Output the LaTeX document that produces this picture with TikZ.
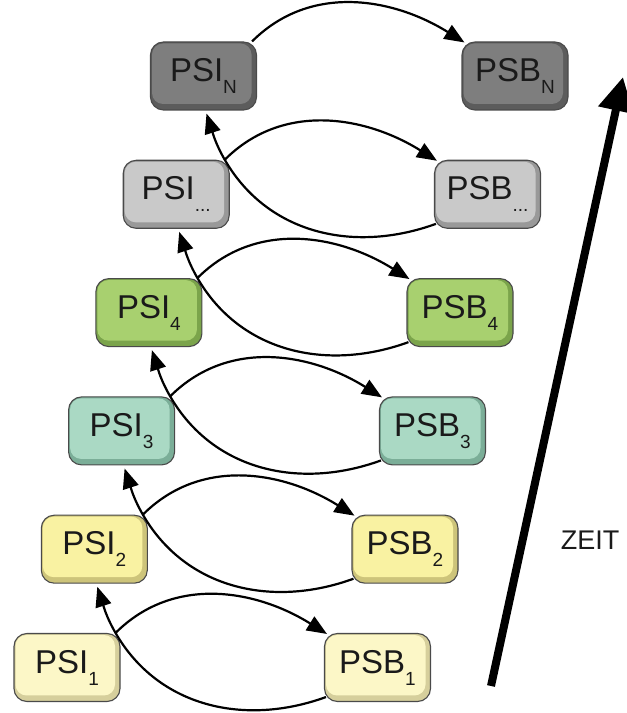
\documentclass[tikz,border=0pt]{standalone}
\usepackage{fontspec}
\setmainfont{Liberation Sans}
\usetikzlibrary{arrows.meta,calc}

% face / side colours of the key caps, one pair per row
\definecolor{faceA}{HTML}{FCF7C7}\definecolor{sideA}{HTML}{D6CF9C}
\definecolor{faceB}{HTML}{F9F2A2}\definecolor{sideB}{HTML}{CDC47A}
\definecolor{faceC}{HTML}{AAD9C4}\definecolor{sideC}{HTML}{7BAE98}
\definecolor{faceD}{HTML}{A8D06F}\definecolor{sideD}{HTML}{7BA44B}
\definecolor{faceE}{HTML}{C9C9C9}\definecolor{sideE}{HTML}{999999}
\definecolor{faceF}{HTML}{7E7E7E}\definecolor{sideF}{HTML}{5C5C5C}
\definecolor{keyline}{HTML}{4A4A4A}
\definecolor{ink}{HTML}{1A1A1A}

% label with a lowered index
\newcommand\keylabel[2]{#1\raisebox{-12pt}{\fontsize{19}{19}\selectfont #2}}

\tikzset{
  keycap/.style 2 args={draw=keyline, line width=1.1pt, fill=#2,
    rounded corners=13pt, minimum width=106pt, minimum height=68pt,
    inner sep=0pt, text=ink, font=\fontsize{33}{33}\selectfont,
    path picture={\fill[#1, rounded corners=11pt]
      ([shift={(1.5pt,-1.5pt)}]path picture bounding box.north west) rectangle
      ([shift={(-5pt,6pt)}]path picture bounding box.south east);}},
  link/.style={line width=2.2pt, draw=black, -{Triangle[length=20pt,width=16pt]}},
}

\begin{document}
\begin{tikzpicture}[x=1pt,y=1pt]
\useasboundingbox (0,0) rectangle (627,713);

% left column: PSI, right column: PSB
\node[keycap={faceA}{sideA}] (i1) at (67,45.5)    {\keylabel{PSI}{1}};
\node[keycap={faceA}{sideA}] (b1) at (377.5,45.5) {\keylabel{PSB}{1}};
\node[keycap={faceB}{sideB}] (i2) at (94.3,163.8) {\keylabel{PSI}{2}};
\node[keycap={faceB}{sideB}] (b2) at (405,163.8)  {\keylabel{PSB}{2}};
\node[keycap={faceC}{sideC}] (i3) at (121.6,282.1){\keylabel{PSI}{3}};
\node[keycap={faceC}{sideC}] (b3) at (432.5,282.1){\keylabel{PSB}{3}};
\node[keycap={faceD}{sideD}] (i4) at (148.9,400.4){\keylabel{PSI}{4}};
\node[keycap={faceD}{sideD}] (b4) at (460,400.4)  {\keylabel{PSB}{4}};
\node[keycap={faceE}{sideE}] (i5) at (176.2,518.7){\keylabel{PSI}{...}};
\node[keycap={faceE}{sideE}] (b5) at (487.5,518.7){\keylabel{PSB}{...}};
\node[keycap={faceF}{sideF}] (i6) at (203.5,637)  {\keylabel{PSI}{N}};
\node[keycap={faceF}{sideF}] (b6) at (515,637)    {\keylabel{PSB}{N}};

% PSI_k -> PSB_k over the top
\foreach \k in {1,...,6}{
  \coordinate (c\k) at ([xshift=-5pt]i\k.north east);
  \draw[link] (c\k) to[out=45,in=148] ([shift={(3pt,-1pt)}]b\k.north west);
}

% PSB_k -> PSI_{k+1} underneath and back up
\foreach \k in {1,...,5}{
  \pgfmathtruncatemacro{\nx}{\k+1}
  \draw[link] ([shift={(2pt,5pt)}]b\k.south west) to[out=-160,in=-60] (c\k)
    to[out=120,in=-72] ([shift={(3pt,-3pt)}]i\nx.south);
}

% time axis
\coordinate (t0) at (491,27);
\coordinate (t1) at (623,636);
\draw[line width=8pt, -{Triangle[length=34pt,width=34pt]}] (t0) -- (t1);
\node[text=ink, font=\fontsize{27}{27}\selectfont] (zeit) at (590,173) {ZEIT};
\end{tikzpicture}
\end{document}
